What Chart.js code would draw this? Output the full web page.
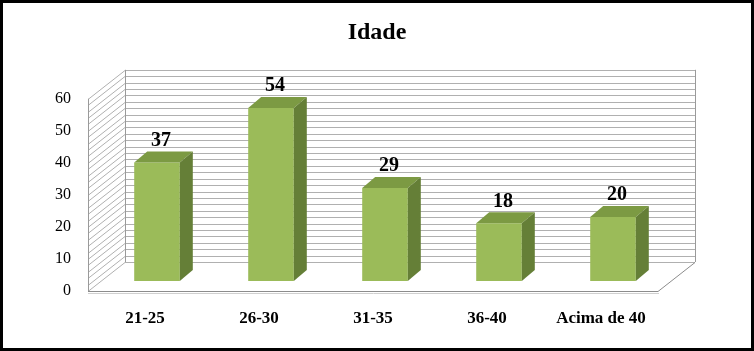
<!DOCTYPE html>
<html>
<head>
<meta charset="utf-8">
<script src="https://cdn.jsdelivr.net/npm/chart.js@4.4.0/dist/chart.umd.min.js"></script>
<style>
  html, body { margin: 0; padding: 0; background: #fff; }
  #wrap { position: relative; width: 754px; height: 351px; }
</style>
</head>
<body>
<div id="wrap"><canvas id="idadeChart" width="754" height="351"></canvas></div>
<script>
var categorias = ['21-25', '26-30', '31-35', '36-40', 'Acima de 40'];
var valores = [37, 54, 29, 18, 20];
var yTicks = [0, 10, 20, 30, 40, 50, 60];

// 3d look
var floorDX = 37, floorDY = -29;   // depth of the floor/back wall
var barDX = 12, barDY = -10;       // where the bars sit inside the depth
var sideDX = 13, sideDY = -11;     // bar thickness
var serif = '"Liberation Serif", "Times New Roman", serif';

var fakeThreeD = {
    id: 'fakeThreeD',
    beforeDatasetsDraw: function(chart) {
        var ctx = chart.ctx, a = chart.chartArea, y = chart.scales.y;
        ctx.save();
        // back wall lines, every 2
        ctx.strokeStyle = '#b0b0b0';
        ctx.lineWidth = 1;
        for (var v = 0; v <= 60; v += 2) {
            var py = Math.round(y.getPixelForValue(v)) + 0.5;
            ctx.beginPath();
            ctx.moveTo(a.left, py);
            ctx.lineTo(a.left + floorDX, py + floorDY);
            ctx.lineTo(a.right + floorDX, py + floorDY);
            ctx.stroke();
        }
        // walls edges
        ctx.strokeStyle = '#9a9a9a';
        ctx.beginPath();
        ctx.moveTo(a.left + 0.5, a.top);
        ctx.lineTo(a.left + 0.5, a.bottom);
        ctx.moveTo(a.left + floorDX + 0.5, a.top + floorDY);
        ctx.lineTo(a.left + floorDX + 0.5, a.bottom + floorDY);
        ctx.moveTo(a.right + floorDX + 0.5, a.top + floorDY);
        ctx.lineTo(a.right + floorDX + 0.5, a.bottom + floorDY);
        ctx.stroke();
        // floor
        ctx.strokeStyle = '#8c8c8c';
        ctx.beginPath();
        ctx.moveTo(a.left, a.bottom + 0.5);
        ctx.lineTo(a.right, a.bottom + 0.5);
        ctx.lineTo(a.right + floorDX, a.bottom + floorDY + 0.5);
        ctx.stroke();
        ctx.strokeStyle = '#d0d0d0';
        ctx.beginPath();
        ctx.moveTo(a.left, a.bottom + 2.5);
        ctx.lineTo(a.right + 1, a.bottom + 2.5);
        ctx.stroke();
        ctx.restore();

        ctx.save();
        ctx.translate(barDX, barDY);
    },
    afterDatasetsDraw: function(chart) {
        var ctx = chart.ctx;
        var bars = chart.getDatasetMeta(0).data;
        bars.forEach(function(b) {
            var l = b.x - b.width / 2, r = b.x + b.width / 2;
            // top face
            ctx.fillStyle = '#7c9a43';
            ctx.beginPath();
            ctx.moveTo(l, b.y);
            ctx.lineTo(r, b.y);
            ctx.lineTo(r + sideDX, b.y + sideDY);
            ctx.lineTo(l + sideDX, b.y + sideDY);
            ctx.closePath();
            ctx.fill();
            // side face
            ctx.fillStyle = '#657f37';
            ctx.beginPath();
            ctx.moveTo(r, b.y);
            ctx.lineTo(r + sideDX, b.y + sideDY);
            ctx.lineTo(r + sideDX, b.base + sideDY);
            ctx.lineTo(r, b.base);
            ctx.closePath();
            ctx.fill();
        });
        // value labels
        ctx.fillStyle = '#000';
        ctx.font = 'bold 20px ' + serif;
        ctx.textAlign = 'center';
        ctx.textBaseline = 'middle';
        bars.forEach(function(b, i) {
            ctx.fillText(valores[i], b.x + 4, b.y - 22);
        });
        ctx.restore();
    },
    afterDraw: function(chart) {
        var ctx = chart.ctx;
        ctx.save();
        ctx.strokeStyle = '#000';
        ctx.lineWidth = 3;
        ctx.strokeRect(1.5, 1.5, chart.width - 3, chart.height - 3);
        ctx.restore();
    }
};

var idadeChart = new Chart(document.getElementById('idadeChart'), {
    type: 'bar',
    data: {
        labels: categorias,
        datasets: [{
            label: 'Idade',
            data: valores,
            backgroundColor: '#9bbb59',
            borderWidth: 0,
            categoryPercentage: 1,
            barPercentage: 0.4
        }]
    },
    options: {
        responsive: false,
        animation: false,
        layout: { padding: 0 },
        plugins: {
            legend: { display: false },
            tooltip: { enabled: false },
            title: {
                display: true,
                text: 'Idade',
                color: '#000',
                font: { family: serif, size: 24, weight: 'bold' },
                padding: { top: 18, bottom: 52 }
            }
        },
        scales: {
            x: {
                grid: { display: false, drawTicks: false },
                border: { display: false },
                ticks: {
                    color: '#000',
                    padding: 17,
                    maxRotation: 0,
                    font: { family: serif, size: 17, weight: 'bold' }
                },
                afterFit: function(scale) { scale.height = 60; }
            },
            y: {
                min: 0,
                max: 60,
                afterBuildTicks: function(scale) {
                    scale.ticks = yTicks.map(function(v) { return { value: v }; });
                },
                grid: { display: false, drawTicks: false },
                border: { display: false },
                ticks: {
                    color: '#000',
                    padding: 17,
                    font: { family: serif, size: 16 }
                },
                afterFit: function(scale) { scale.width = 88; }
            },
            // empty space on the right, for the depth of the floor
            yRight: {
                position: 'right',
                grid: { display: false, drawTicks: false },
                border: { display: false },
                ticks: { display: false },
                afterFit: function(scale) { scale.width = 96; }
            }
        }
    },
    plugins: [fakeThreeD]
});
</script>
</body>
</html>
